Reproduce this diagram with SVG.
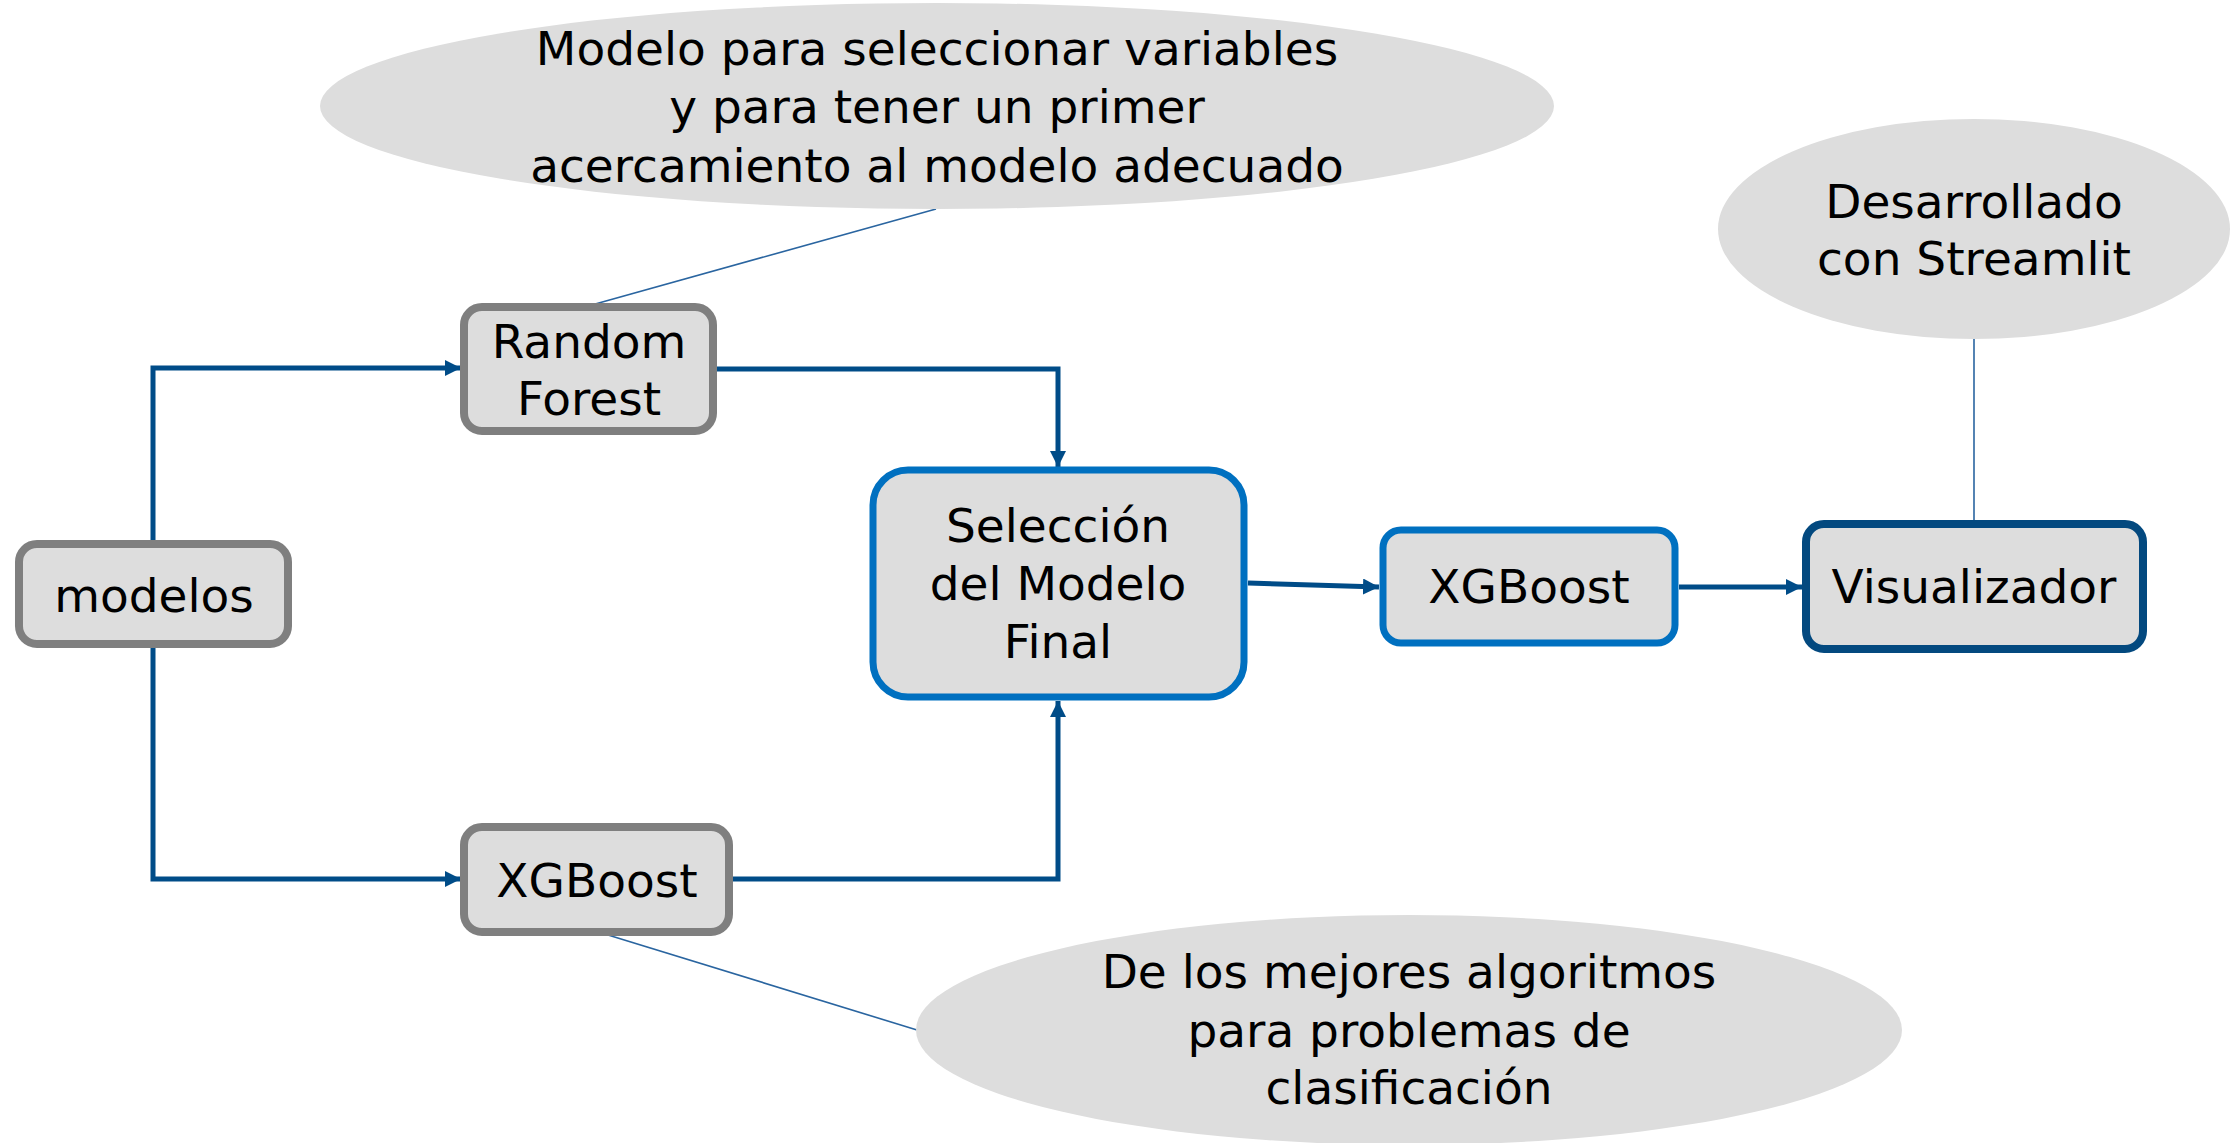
<svg xmlns="http://www.w3.org/2000/svg" width="2240" height="1143" viewBox="0 0 2240 1143">
<style>
.box{fill:#DDDDDD;stroke-width:8}
.gray{stroke:#7F7F7F}
.blue{stroke:#0070C0;stroke-width:7}
.dark{stroke:#03497F}
.note{fill:#DDDDDD;stroke:none}
.t{font-family:"DejaVu Sans","Liberation Sans",sans-serif;font-size:47px;fill:#000;text-anchor:middle}
.conn{fill:none;stroke:#004C88;stroke-width:5;marker-end:url(#arr)}
.thin{fill:none;stroke:#2A65A0;stroke-width:1.6}
</style>
<defs>
<marker id="arr" markerUnits="userSpaceOnUse" markerWidth="16" markerHeight="16" refX="16" refY="8" orient="auto">
<path d="M0,0 L16,8 L0,16 z" fill="#004C88"/>
</marker>
</defs>
<rect width="2240" height="1143" fill="#FFFFFF"/>
<g id="connectors">
<path class="conn" d="M153,543 V368 H461"/>
<path class="conn" d="M153,645 V879 H461"/>
<path class="conn" d="M716,369 H1058 V467"/>
<path class="conn" d="M733,879 H1058 V701"/>
<path class="conn" d="M1248,583 L1379,587"/>
<path class="conn" d="M1679,587 H1802"/>
<path class="thin" d="M936,209 L588,306"/>
<path class="thin" d="M595,931 L917,1030"/>
<path class="thin" d="M1974,338 V521"/>
</g>
<g id="note-rf">
<ellipse class="note" cx="937" cy="106" rx="617" ry="103"/>
<text class="t" x="937" y="65">Modelo para seleccionar variables</text>
<text class="t" x="937" y="123">y para tener un primer</text>
<text class="t" x="937" y="182">acercamiento al modelo adecuado</text>
</g>
<g id="note-streamlit">
<ellipse class="note" cx="1974" cy="229" rx="256" ry="110"/>
<text class="t" x="1974" y="218">Desarrollado</text>
<text class="t" x="1974" y="275">con Streamlit</text>
</g>
<g id="note-xgb">
<ellipse class="note" cx="1409" cy="1030" rx="493" ry="115"/>
<text class="t" x="1409" y="988">De los mejores algoritmos</text>
<text class="t" x="1409" y="1047">para problemas de</text>
<text class="t" x="1409" y="1104">clasificación</text>
</g>
<g id="modelos">
<rect class="box gray" x="19" y="544" width="269" height="100" rx="18"/>
<text class="t" x="154" y="612">modelos</text>
</g>
<g id="random-forest">
<rect class="box gray" x="464" y="307" width="249" height="124" rx="18"/>
<text class="t" x="589" y="358">Random</text>
<text class="t" x="589" y="415">Forest</text>
</g>
<g id="xgboost-1">
<rect class="box gray" x="464" y="827" width="265" height="105" rx="18"/>
<text class="t" x="597" y="897">XGBoost</text>
</g>
<g id="seleccion">
<rect class="box blue" x="873" y="470" width="371" height="227" rx="35"/>
<text class="t" x="1058" y="542">Selección</text>
<text class="t" x="1058" y="600">del Modelo</text>
<text class="t" x="1058" y="658">Final</text>
</g>
<g id="xgboost-2">
<rect class="box blue" x="1383" y="530" width="292" height="113" rx="18"/>
<text class="t" x="1529" y="603">XGBoost</text>
</g>
<g id="visualizador">
<rect class="box dark" x="1806" y="524" width="337" height="125" rx="18"/>
<text class="t" x="1974" y="603">Visualizador</text>
</g>
</svg>
